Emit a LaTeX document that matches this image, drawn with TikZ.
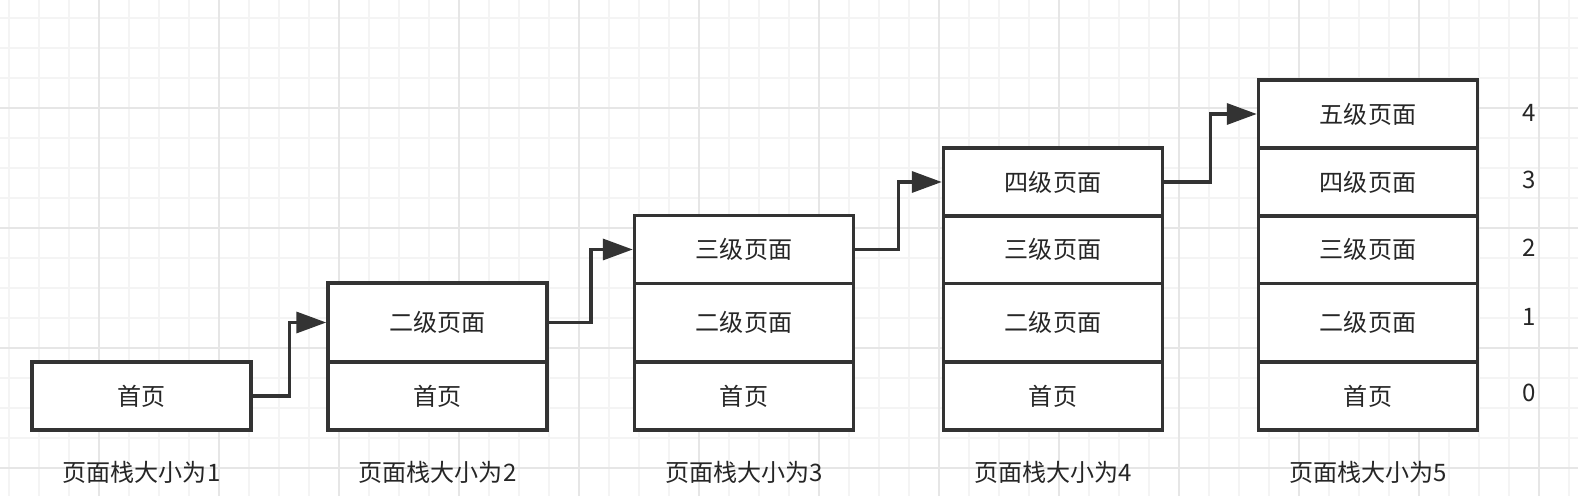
\documentclass[tikz,border=0pt]{standalone}
\usepackage{fontspec}
\setmainfont{Noto Sans CJK SC}
\usetikzlibrary{positioning}
\usetikzlibrary{arrows.meta}
\usetikzlibrary{calc}
\definecolor{linegray}{HTML}{333333}
\definecolor{gridminor}{HTML}{F4F4F4}
\definecolor{gridmajor}{HTML}{E6E6E6}
\tikzset{
    mycell/.style = {rectangle, line width=0.07cm, draw=linegray, fill=white, minimum width=4.38cm, minimum height=1.36cm, inner sep=0pt, font=\fontsize{13.7}{16}\selectfont, text=black!85},
    mycellt/.style = {mycell, minimum height=1.58cm},
    mylabel/.style = {font=\fontsize{13.7}{16}\selectfont, text=black!85},
    myindex/.style = {font=\fontsize{13.7}{16}\selectfont, text=black!85},
    edgea/.style = {-{Triangle[length=0.6cm,width=0.42cm]}, line width=0.07cm, linegray},
    gridn/.style = {line width=0.04cm, gridminor},
    gridb/.style = {line width=0.04cm, gridmajor}
}

\begin{document}
\begin{tikzpicture}[x=0.02cm,y=-0.02cm]
\useasboundingbox (0,0) rectangle (1578,496);
\fill[white] (0,0) rectangle (1578,496);
% background grid
\foreach \gx in {9,39,...,1569} \draw[gridn] (\gx,0) -- (\gx,496);
\foreach \gy in {18,48,...,488} \draw[gridn] (0,\gy) -- (1578,\gy);
\foreach \gx in {99,219,...,1539} \draw[gridb] (\gx,0) -- (\gx,496);
\foreach \gy in {108,228,...,468} \draw[gridb] (0,\gy) -- (1578,\gy);
%
\node[mycell]  at (141.5, 396)   (p1a) {首页};
%
\node[mycell]  at (437.5, 396)   (p2a) {首页};
\node[mycellt] at (437.5, 322.5) (p2b) {二级页面};
%
\node[mycell]  at (744, 396)     (p3a) {首页};
\node[mycellt] at (744, 322.5)   (p3b) {二级页面};
\node[mycell]  at (744, 249.5)   (p3c) {三级页面};
%
\node[mycell]  at (1053, 396)    (p4a) {首页};
\node[mycellt] at (1053, 322.5)  (p4b) {二级页面};
\node[mycell]  at (1053, 249.5)  (p4c) {三级页面};
\node[mycell]  at (1053, 182)    (p4d) {四级页面};
%
\node[mycell]  at (1368, 396)    (p5a) {首页};
\node[mycellt] at (1368, 322.5)  (p5b) {二级页面};
\node[mycell]  at (1368, 249.5)  (p5c) {三级页面};
\node[mycell]  at (1368, 182)    (p5d) {四级页面};
\node[mycell]  at (1368, 114)    (p5e) {五级页面};
%
\node[mylabel] at (141.5, 472)   (l1) {页面栈大小为1};
\node[mylabel] at (437.5, 472)   (l2) {页面栈大小为2};
\node[mylabel] at (744, 472)     (l3) {页面栈大小为3};
\node[mylabel] at (1053, 472)    (l4) {页面栈大小为4};
\node[mylabel] at (1368, 472)    (l5) {页面栈大小为5};
%
\node[myindex] at (1529, 393)    (i0) {0};
\node[myindex] at (1529, 317)    (i1) {1};
\node[myindex] at (1529, 248)    (i2) {2};
\node[myindex] at (1529, 180)    (i3) {3};
\node[myindex] at (1529, 113)    (i4) {4};
%
\draw[edgea] (p1a.east) -| ($(p1a.east)!0.5!(p2b.west)$) |- (p2b.west);
\draw[edgea] (p2b.east) -| ($(p2b.east)!0.5!(p3c.west)$) |- (p3c.west);
\draw[edgea] (p3c.east) -| ($(p3c.east)!0.5!(p4d.west)$) |- (p4d.west);
\draw[edgea] (p4d.east) -| ($(p4d.east)!0.5!(p5e.west)$) |- (p5e.west);
\end{tikzpicture}
\end{document}
